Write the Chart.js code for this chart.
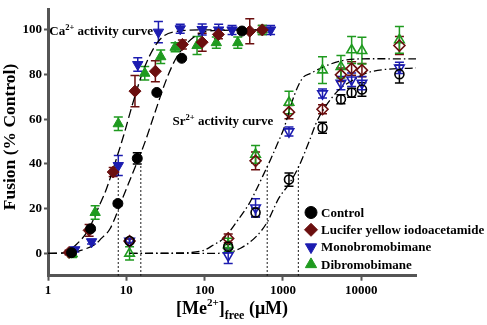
<!DOCTYPE html>
<html>
<head>
<meta charset="utf-8">
<script src="https://cdn.jsdelivr.net/npm/chart.js@4.4.0/dist/chart.umd.min.js"></script>
<style>
  html, body { margin: 0; padding: 0; background: #fff; }
  #wrap { width: 487px; height: 325px; }
</style>
</head>
<body>
<div id="wrap"><canvas id="myChart"></canvas></div>
<script>
const seriesNames = ['Control', 'Lucifer yellow iodoacetamide', 'Monobromobimane', 'Dibromobimane'];
const xTicks = [1, 10, 100, 1000, 10000];
const yTicks = [0, 20, 40, 60, 80, 100];

// Ca2+ data (filled symbols)
const caCtrlX = [2.0, 3.5, 7.8, 13.8, 24.5, 51, 300];
const caCtrlY = [0.3, 11, 22.3, 42.5, 72, 87.3, 99.5];
const caCtrlErr = [0.5, 1, 1, 2.5, 0.5, 0.5, 1];

const caLucX = [1.86, 3.35, 6.8, 12.9, 23.5, 52, 93, 150, 377, 545];
const caLucY = [0.4, 10.3, 36.4, 72.6, 81.5, 93.5, 94.5, 98, 99.4, 100];
const caLucErr = [1, 2.6, 2, 7, 4.7, 2, 4, 2, 5.6, 2];

const caMonoX = [2.2, 3.6, 7.9, 14, 25.7, 48.8, 93, 151, 224, 695];
const caMonoY = [1.6, 5.2, 39.3, 84.5, 99, 100.5, 100.2, 100, 100, 100];
const caMonoErr = [1, 1, 4.5, 3, 4.8, 2, 2.5, 2.5, 2, 2];

const caDibX = [2.05, 4.0, 7.9, 17.2, 27.5, 42, 80, 141, 265, 545];
const caDibY = [-0.3, 18.3, 58, 80.6, 88, 92.2, 93, 94.3, 94.3, 100];
const caDibErr = [1.5, 3, 3, 3, 3, 2, 4, 2.5, 2.5, 2];

// Sr2+ data (open symbols)
const srX = [11, 200, 447, 1194, 3200, 5500, 7530, 10200, 30700];
const srCtrlY = [5.5, 3, 18.3, 33, 56.2, 69, 71.9, 73.3, 80.2];
const srCtrlErr = [1, 1, 2, 3, 2.5, 2, 2, 3, 4];
const srLucY = [5.5, 6.7, 41.4, 63.2, 64.5, 79.9, 82.7, 82, 93];
const srLucErr = [1, 2, 4, 3, 2, 3, 3, 3, 4];
const srMonoY = [5.5, -1, 20.4, 54.5, 71.5, 76.2, 77.7, 76.2, 83];
const srMonoErr = [1, 3.5, 4, 2, 2, 3, 3, 3, 2.5];
const srDibY = [0, 3.8, 44.3, 67.5, 82, 83.5, 91, 90.7, 95.5];
const srDibErr = [3, 3, 4, 5, 6, 5, 6, 6, 6];

// fitted activity curves
const caFastX = [1, 1.5, 2, 2.3, 3, 3.5, 4.4, 5.6, 7.9, 9.2, 12.3, 17.4, 27, 46, 100, 700];
const caFastY = [0, 0.1, 2.3, 4, 8.5, 12.5, 20.4, 29, 45, 52.5, 68, 84, 95.8, 99.4, 100, 100];
const caCtrlFitX = [1, 2, 3, 4, 4.8, 6.2, 9, 10.6, 13.8, 17.4, 22.2, 33, 44.3, 76, 130, 700];
const caCtrlFitY = [0, 0.5, 2, 4, 6.7, 11, 24.8, 31, 41, 50, 61, 78.4, 88, 97.3, 99.7, 100];
const srFastX = [11, 60, 100, 130, 175, 300, 367, 450, 560, 695, 850, 1030, 1384, 1775, 2265, 3710, 6050, 14700, 50000];
const srFastY = [0, 0.3, 1.5, 3.8, 6.7, 17.5, 22, 28, 35, 42, 49, 56, 70.4, 78.4, 80.6, 84.2, 86.4, 87.1, 87];
const srCtrlFitX = [11, 100, 175, 287, 470, 630, 890, 1194, 1600, 2155, 2760, 4980, 7380, 13300, 50000];
const srCtrlFitY = [0, 0, 0.1, 2.3, 8, 14, 24.8, 31, 39, 50, 59.6, 72.6, 77, 81.3, 83];

// EC50 drop lines
const dropX = [7.9, 15.3, 630, 1575];
const dropTop = 40;

const colors = ['#000000', '#6b0f0f', '#1c1cb0', '#1f9a1f'];
const styles = ['circle', 'rectRot', 'triangle', 'triangle'];
const rotations = [0, 0, 180, 0];
const radii = [5, 6, 6, 6];
const serif = "'Liberation Serif', 'Times New Roman', serif";

function pts(xs, ys) { return xs.map((x, i) => ({ x: x, y: ys[i] })); }

function markerSet(idx, xs, ys, errs, open) {
  return {
    label: seriesNames[idx],
    data: pts(xs, ys),
    errors: errs,
    pointStyle: styles[idx],
    rotation: rotations[idx],
    pointRadius: open ? radii[idx] - 0.5 : radii[idx],
    borderColor: colors[idx],
    backgroundColor: open ? 'rgba(0,0,0,0)' : colors[idx],
    borderWidth: open ? 1.6 : 1,
    showLine: false,
    order: 1
  };
}

function curveSet(xs, ys, dash) {
  return {
    data: pts(xs, ys),
    showLine: true,
    pointRadius: 0,
    borderColor: '#000',
    borderWidth: 1.3,
    borderDash: dash,
    cubicInterpolationMode: 'monotone',
    fill: false,
    order: 5
  };
}

const datasets = [
  markerSet(0, caCtrlX, caCtrlY, caCtrlErr, false),
  markerSet(1, caLucX, caLucY, caLucErr, false),
  markerSet(2, caMonoX, caMonoY, caMonoErr, false),
  markerSet(3, caDibX, caDibY, caDibErr, false),
  markerSet(0, srX, srCtrlY, srCtrlErr, true),
  markerSet(1, srX, srLucY, srLucErr, true),
  markerSet(2, srX, srMonoY, srMonoErr, true),
  markerSet(3, srX, srDibY, srDibErr, true),
  curveSet(caFastX, caFastY, [9, 4]),
  curveSet(caCtrlFitX, caCtrlFitY, [9, 4]),
  curveSet(srFastX, srFastY, [8, 3, 1.5, 3]),
  curveSet(srCtrlFitX, srCtrlFitY, [8, 3, 1.5, 3])
];
dropX.forEach(v => {
  datasets.push({
    data: [{ x: v, y: -10 }, { x: v, y: dropTop }],
    showLine: true, pointRadius: 0, borderColor: '#000',
    borderWidth: 1.2, borderDash: [1.5, 2.5], order: 6
  });
});

const errorBars = {
  id: 'errorBars',
  beforeDatasetsDraw(chart) {
    const ctx = chart.ctx, x = chart.scales.x, y = chart.scales.y;
    chart.data.datasets.forEach(ds => {
      if (!ds.errors) return;
      ctx.save();
      ctx.strokeStyle = ds.borderColor;
      ctx.lineWidth = 1.5;
      ds.data.forEach((p, j) => {
        const e = ds.errors[j];
        if (!e) return;
        const px = x.getPixelForValue(p.x);
        const top = y.getPixelForValue(p.y + e), bot = y.getPixelForValue(p.y - e);
        ctx.beginPath();
        ctx.moveTo(px, top); ctx.lineTo(px, bot);
        ctx.moveTo(px - 4.5, top); ctx.lineTo(px + 4.5, top);
        ctx.moveTo(px - 4.5, bot); ctx.lineTo(px + 4.5, bot);
        ctx.stroke();
      });
      ctx.restore();
    });
  }
};

// draws a run of text pieces: [text, size, raise]
function richText(ctx, parts, x, y, weight) {
  let cx = x;
  parts.forEach(p => {
    ctx.font = weight + ' ' + p[1] + 'px ' + serif;
    ctx.fillText(p[0], cx, y - p[2]);
    cx += ctx.measureText(p[0]).width;
  });
  return cx;
}
function richWidth(ctx, parts, weight) {
  let w = 0;
  parts.forEach(p => {
    ctx.font = weight + ' ' + p[1] + 'px ' + serif;
    w += ctx.measureText(p[0]).width;
  });
  return w;
}

const labels = {
  id: 'labels',
  afterDraw(chart) {
    const ctx = chart.ctx, x = chart.scales.x, y = chart.scales.y;
    ctx.save();
    ctx.fillStyle = '#000';
    ctx.textBaseline = 'alphabetic';
    ctx.textAlign = 'left';

    // curve annotations
    richText(ctx, [['Ca', 13, 0], ['2+', 8.5, 5], [' activity curve', 13, 0]],
      x.getPixelForValue(1.04), y.getPixelForValue(97.5), 'bold');
    richText(ctx, [['Sr', 13, 0], ['2+', 8.5, 5], [' activity curve', 13, 0]],
      x.getPixelForValue(39), y.getPixelForValue(57.5), 'bold');

    // x title
    const xt = [['[Me', 18, 0], ['2+', 11, 8], [']', 18, 0], ['free', 12, -5], [' (\u03bcM)', 18, 0]];
    const xw = richWidth(ctx, xt, 'bold');
    richText(ctx, xt, 232 - xw / 2, 314, 'bold');

    // y title
    ctx.translate(15, 137);
    ctx.rotate(-Math.PI / 2);
    ctx.font = 'bold 17.5px ' + serif;
    ctx.textAlign = 'center';
    ctx.fillText('Fusion (% Control)', 0, 0);
    ctx.restore();

    // legend
    ctx.save();
    ctx.textBaseline = 'middle';
    ctx.textAlign = 'left';
    ctx.font = 'bold 13px ' + serif;
    seriesNames.forEach((name, i) => {
      const ly = 212.5 + i * 17.3;
      ctx.fillStyle = colors[i];
      ctx.strokeStyle = colors[i];
      ctx.lineWidth = 1;
      Chart.helpers.drawPoint(ctx, {
        pointStyle: styles[i], radius: i === 0 ? 6 : 6.5, rotation: rotations[i], borderWidth: 1
      }, 311, ly);
      ctx.fillStyle = '#000';
      ctx.fillText(name, 321, ly + 1);
    });
    ctx.restore();
  }
};

const tickFont = { family: serif, weight: 'bold', size: 13 };

new Chart(document.getElementById('myChart'), {
  type: 'scatter',
  data: { datasets: datasets },
  options: {
    responsive: true,
    maintainAspectRatio: false,
    animation: false,
    devicePixelRatio: 1,
    layout: { padding: { top: 1, right: 71, left: 0, bottom: 0 } },
    plugins: { legend: { display: false }, tooltip: { enabled: false } },
    scales: {
      x: {
        type: 'logarithmic',
        min: 1, max: 50000,
        afterBuildTicks: s => { s.ticks = xTicks.map(v => ({ value: v })); },
        afterFit: s => { s.height = 49.3; },
        ticks: { font: tickFont, color: '#000', padding: 2, maxRotation: 0,
          callback: v => String(v) },
        grid: { drawOnChartArea: false, drawTicks: true, tickLength: 5, color: '#555', tickWidth: 2 },
        border: { color: '#555', width: 3 }
      },
      y: {
        min: -10, max: 109,
        afterBuildTicks: s => { s.ticks = yTicks.map(v => ({ value: v })); },
        afterFit: s => { s.width = 48; },
        ticks: { font: tickFont, color: '#000', padding: 2 },
        grid: { drawOnChartArea: false, drawTicks: true, tickLength: 4, color: '#555', tickWidth: 2 },
        border: { color: '#555', width: 3 }
      }
    }
  },
  plugins: [errorBars, labels]
});
</script>
</body>
</html>
